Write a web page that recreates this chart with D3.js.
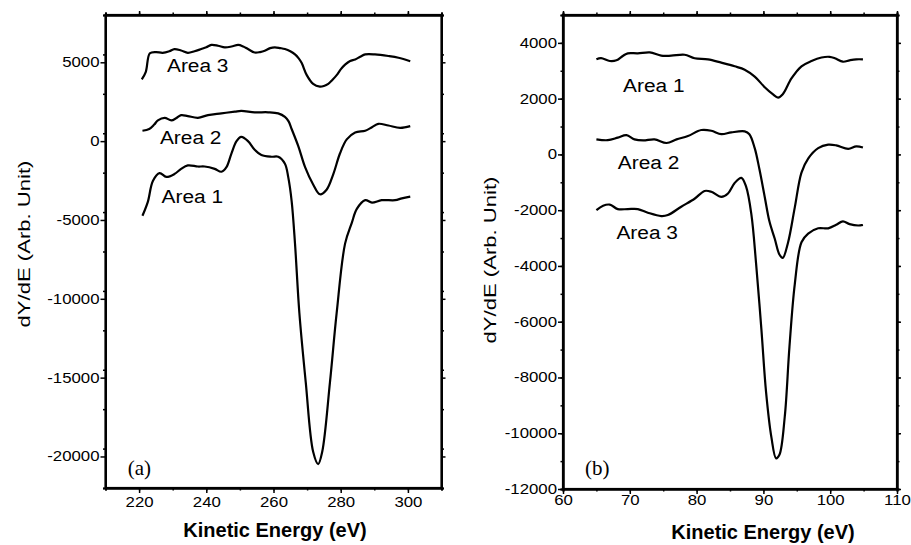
<!DOCTYPE html>
<html>
<head>
<meta charset="utf-8">
<script src="https://cdn.jsdelivr.net/npm/d3@7"></script>
<style>
  body { margin: 0; background: #fff; }
  svg { display: block; }
  .domain { stroke: #000; stroke-width: 2; }
  .tick line { stroke: #000; stroke-width: 1.5; }
</style>
</head>
<body>
<div id="chart"></div>
<script>
// panel (a) data, [kinetic energy eV, dY/dE]
var a_area3 = [[220.8,3920],[222,4400],[223.2,5570],[225,5650],[227,5600],[229,5700],[230.5,5840],[232.5,5750],[234.5,5600],[236.5,5700],[238.5,5840],[240,5950],[241.5,6100],[243.5,6050],[245.5,5950],[247.5,6000],[249.5,6100],[251,6000],[252.4,5840],[254.4,5620],[256,5650],[257.4,5730],[259,5900],[260.4,5950],[262,5900],[263.4,5840],[265,5700],[266.4,5500],[267.5,5250],[268.4,4950],[269.9,4185],[271.8,3630],[273.8,3460],[275,3500],[276.3,3630],[277.5,3880],[278.8,4185],[280,4550],[281.3,4850],[282.8,5080],[284.3,5180],[285.8,5350],[287.3,5500],[290.2,5500],[294.2,5400],[297.2,5290],[300.7,5070]];
var a_area2 = [[221,660],[223,770],[224.5,1050],[225.6,1320],[227.6,1480],[229.6,1320],[231,1450],[232.5,1650],[234.5,1590],[237.5,1480],[240.5,1650],[244.5,1760],[248.5,1870],[250.4,1920],[254.4,1830],[258.4,1830],[261.4,1760],[263.4,1540],[264.5,1250],[265.4,770],[267.4,-330],[269.4,-1650],[271.8,-2750],[273.8,-3370],[275.8,-3080],[277.8,-2090],[279.8,-770],[281.8,110],[284.3,550],[287.3,660],[289.3,880],[291.2,1100],[294.2,990],[297.7,840],[300.7,950]];
var a_area1 = [[221,-4735],[222.6,-3855],[224.1,-2530],[226.1,-2030],[228.1,-2270],[230.5,-2090],[232.5,-1760],[234.5,-1540],[237.5,-1610],[239.5,-1610],[242.5,-1760],[244.5,-1940],[246,-1650],[247.5,-770],[249,0],[250.4,265],[252.4,0],[254.4,-550],[256.4,-880],[259.4,-990],[261.4,-990],[263.4,-1430],[264.4,-2300],[265.4,-3800],[266.4,-6500],[267.7,-10900],[269.6,-15300],[271.8,-19700],[273.3,-20480],[274.5,-19700],[276.8,-15300],[278.8,-10900],[281.3,-6500],[283.3,-5180],[284.8,-4300],[287.3,-3745],[289.3,-3900],[292.2,-3745],[296.2,-3745],[298.2,-3630],[300.7,-3520]];

// panel (b) data
var b_area1 = [[65,3410],[65.7,3450],[67,3350],[68,3375],[69,3540],[69.7,3625],[71.2,3625],[73,3660],[74.7,3540],[76.2,3540],[78.2,3575],[79.7,3450],[81.7,3410],[83.7,3290],[85.7,3160],[87.2,3040],[88.7,2790],[90.2,2410],[91.4,2160],[92.2,2040],[92.9,2160],[94.2,2725],[95.7,3160],[97.2,3350],[98.7,3475],[99.9,3500],[100.7,3450],[101.9,3325],[102.9,3375],[103.9,3410],[104.9,3410]];
var b_area2 = [[65,540],[66.7,510],[68.2,600],[69.5,690],[70.7,540],[72,500],[73.7,540],[75.5,410],[77,540],[78.7,660],[80.7,875],[82.2,850],[83.7,725],[85.2,790],[87.2,825],[87.9,725],[88.7,225],[89.4,-525],[90.2,-1525],[90.9,-2400],[91.7,-3025],[92.4,-3590],[92.9,-3710],[93.7,-3150],[94.7,-1900],[95.7,-650],[96.7,-150],[98.2,225],[99.7,350],[100.9,325],[102.7,200],[103.9,290],[104.9,250]];
var b_area3 = [[65,-2000],[66,-1840],[67,-1800],[68.2,-1960],[69.7,-1960],[71.2,-1960],[72.7,-2090],[74.7,-2210],[75.7,-2175],[77.7,-1875],[79.7,-1590],[81.2,-1310],[82.2,-1340],[83.7,-1525],[84.7,-1400],[85.7,-1025],[86.7,-840],[87.4,-1150],[88.2,-2150],[88.9,-3900],[89.7,-6275],[90.4,-8525],[91.2,-10150],[91.9,-10900],[92.4,-10775],[93.2,-9400],[93.9,-6900],[94.7,-4650],[95.7,-3150],[96.7,-2840],[98.2,-2650],[99.7,-2650],[100.9,-2525],[101.9,-2400],[102.9,-2500],[104.2,-2550],[104.9,-2525]];

// ticks
var a_xTicks = [220, 240, 260, 280, 300];
var a_yTicks = [5000, 0, -5000, -10000, -15000, -20000];
var b_xTicks = [60, 70, 80, 90, 100, 110];
var b_yTicks = [4000, 2000, 0, -2000, -4000, -6000, -8000, -10000, -12000];

// labels: [text, energy, value]
var a_labels = [["Area 3", 228.3, 4400], ["Area 2", 226.2, -200], ["Area 1", 226.7, -3900]];
var b_labels = [["Area 1", 69, 2240], ["Area 2", 68.2, -540], ["Area 3", 68, -3050]];

var svg = d3.select("#chart").append("svg")
    .attr("width", 911)
    .attr("height", 545);

var sans = "'Liberation Sans', Arial, Helvetica, sans-serif";
var stretch = 1.2;
var plain = d => String(d);   // "-5000", no comma, ascii minus

function drawPanel(cfg) {
    var width = cfg.right - cfg.left;
    var height = cfg.bottom - cfg.top;
    var g = svg.append("g").attr("transform", `translate(${cfg.left}, ${cfg.top})`);

    var x = d3.scaleLinear().domain(cfg.xDomain).range([0, width]);
    var y = d3.scaleLinear().domain(cfg.yDomain).range([height, 0]);

    // minor ticks all round
    var xMinor = d3.range(cfg.xDomain[0], cfg.xDomain[1] + 0.001, cfg.xMinor);
    var yMinor = d3.range(cfg.yDomain[0], cfg.yDomain[1] + 0.001, cfg.yMinor);
    g.append("g").attr("transform", `translate(0, ${height})`)
        .call(d3.axisBottom(x).tickValues(xMinor).tickSize(2.5).tickFormat(""));
    g.append("g").call(d3.axisTop(x).tickValues(xMinor).tickSize(2.5).tickFormat(""));
    g.append("g").call(d3.axisLeft(y).tickValues(yMinor).tickSize(2.5).tickFormat(""));
    g.append("g").attr("transform", `translate(${width}, 0)`)
        .call(d3.axisRight(y).tickValues(yMinor).tickSize(2.5).tickFormat(""));

    // major ticks
    var xb = g.append("g").attr("transform", `translate(0, ${height})`)
        .call(d3.axisBottom(x).tickValues(cfg.xTicks).tickSize(5).tickPadding(cfg.xPad)
            .tickSizeOuter(0).tickFormat(plain));
    g.append("g").call(d3.axisTop(x).tickValues(cfg.xTicks).tickSize(4).tickFormat("").tickSizeOuter(0));
    var yl = g.append("g")
        .call(d3.axisLeft(y).tickValues(cfg.yTicks).tickSize(5).tickPadding(1)
            .tickSizeOuter(0).tickFormat(plain));
    g.append("g").attr("transform", `translate(${width}, 0)`)
        .call(d3.axisRight(y).tickValues(cfg.yTicks).tickSize(4).tickFormat("").tickSizeOuter(0));

    xb.selectAll("text")
        .style("font-family", sans).style("font-size", "14px").style("fill", "#000")
        .attr("transform", `scale(${stretch},1)`);
    yl.selectAll("text")
        .style("font-family", sans).style("font-size", "14px").style("fill", "#000")
        .attr("x", -6 / stretch)
        .attr("transform", `scale(${stretch},1)`);

    // frame
    g.append("rect")
        .attr("width", width).attr("height", height)
        .attr("fill", "none").attr("stroke", "#000").attr("stroke-width", 2.2);

    var line = d3.line()
        .x(d => x(d[0]))
        .y(d => y(d[1]))
        .curve(d3.curveCatmullRom.alpha(0.5));

    cfg.series.forEach(function(s) {
        g.append("path")
            .datum(s)
            .attr("fill", "none")
            .attr("stroke", "#000")
            .attr("stroke-width", 2.2)
            .attr("stroke-linejoin", "round")
            .attr("d", line);
    });

    cfg.labels.forEach(function(l) {
        g.append("text")
            .attr("transform", `translate(${x(l[1])}, ${y(l[2])}) scale(1.16,1)`)
            .style("font-family", sans)
            .style("font-size", "18px")
            .text(l[0]);
    });

    g.append("text")
        .attr("transform", `translate(${x(cfg.tag[1])}, ${y(cfg.tag[2])})`)
        .style("font-family", "'Liberation Serif', 'Times New Roman', serif")
        .style("font-size", "21px")
        .text(cfg.tag[0]);

    // axis titles
    svg.append("text")
        .attr("x", cfg.xTitle[0]).attr("y", cfg.xTitle[1])
        .attr("text-anchor", "middle")
        .style("font-family", sans).style("font-size", "20px").style("font-weight", "bold")
        .text("Kinetic Energy (eV)");

    svg.append("text")
        .attr("transform", `translate(${cfg.yTitle[0]}, ${cfg.yTitle[1]}) rotate(-90) scale(1.3,1)`)
        .attr("text-anchor", "middle")
        .attr("dy", "0.35em")
        .style("font-family", sans).style("font-size", "17px")
        .text("dY/dE (Arb. Unit)");
}

drawPanel({
    left: 105.5, right: 441.5, top: 15, bottom: 488,
    xDomain: [210, 310], yDomain: [-22000, 8000],
    xTicks: a_xTicks, yTicks: a_yTicks, xMinor: 10, yMinor: 2500, xPad: 4,
    series: [a_area3, a_area2, a_area1],
    labels: a_labels,
    tag: ["(a)", 216.6, -21150],
    xTitle: [275, 537],
    yTitle: [24, 244]
});

drawPanel({
    left: 563, right: 897, top: 15, bottom: 489,
    xDomain: [60, 110], yDomain: [-12000, 5000],
    xTicks: b_xTicks, yTicks: b_yTicks, xMinor: 5, yMinor: 1000, xPad: 1,
    series: [b_area1, b_area2, b_area3],
    labels: b_labels,
    tag: ["(b)", 63.3, -11480],
    xTitle: [763, 539],
    yTitle: [490, 260]
});
</script>
</body>
</html>
